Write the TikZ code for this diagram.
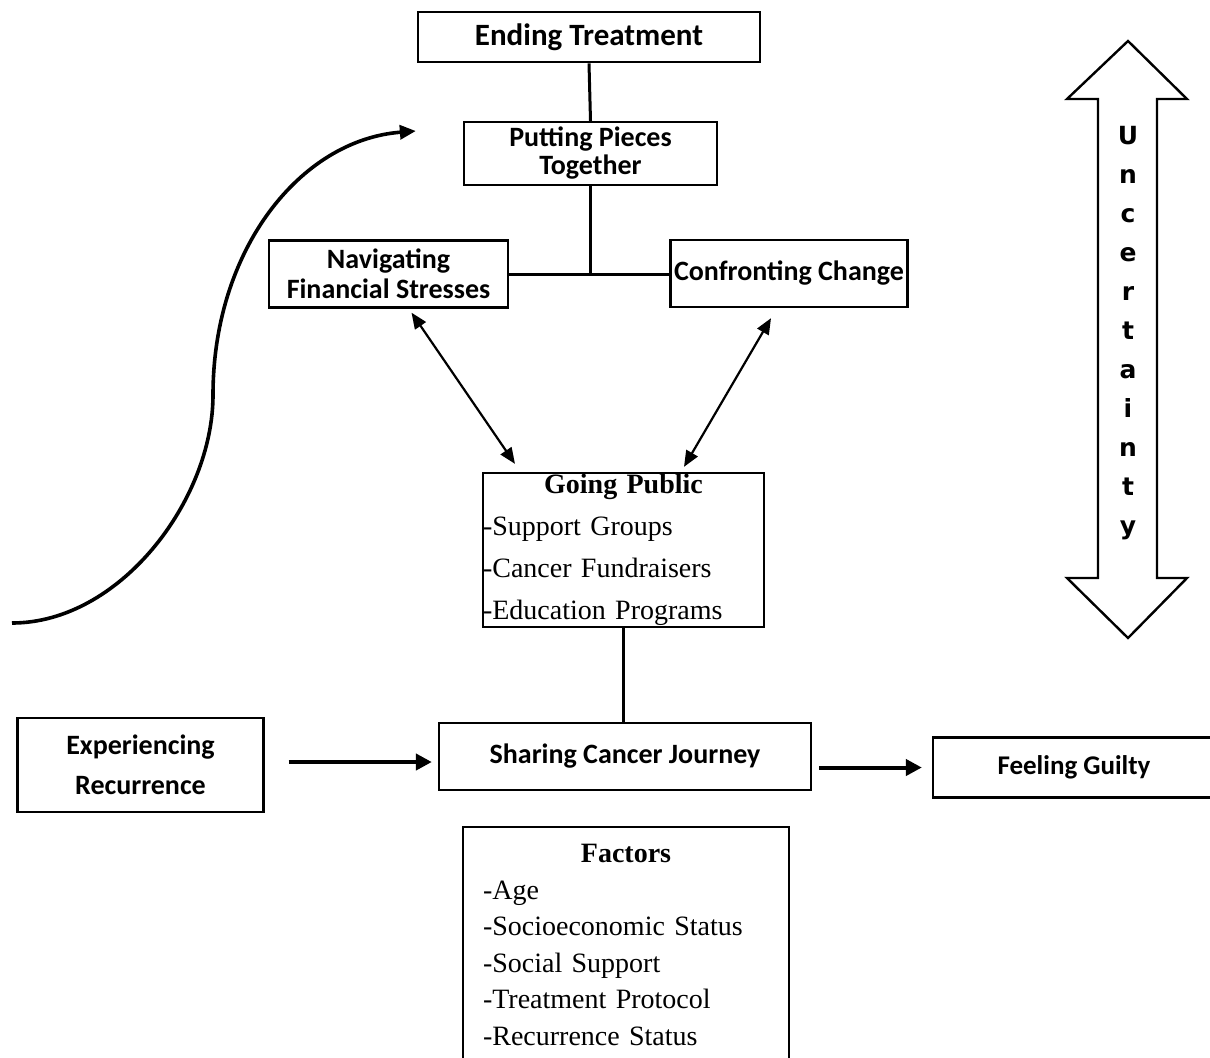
\documentclass[tikz,border=0pt]{standalone}
\usepackage{fontspec}
\setmainfont{Liberation Serif}
\newfontfamily\calibri{Carlito}
\newfontfamily\dejavu{DejaVu Sans}
\usetikzlibrary{
	positioning,
	arrows.meta
}

\begin{document}
\begin{tikzpicture}[x=0.5pt,y=-0.5pt,
		stagebox/.style={draw,line width=1.15pt,inner sep=0pt,align=center,
			font=\calibri\bfseries\fontsize{14}{15}\selectfont},
		listbox/.style={draw,line width=1.15pt,inner ysep=0pt,inner xsep=0pt,align=left,
			font=\fontsize{14}{21}\selectfont},
		link/.style={line width=1.5pt},
		twoway/.style={{Triangle[length=8pt,width=6.5pt]}-{Triangle[length=8pt,width=6.5pt]},line width=1.1pt},
		bigarrow/.style={-{Triangle[length=8pt,width=8pt]},line width=2pt}
	]
	\useasboundingbox (0,0) rectangle (1210,1057);
	\clip (0,0) rectangle (1210,1057);

	% stages
	\node[stagebox,line width=1.4pt,minimum width=171pt,minimum height=25pt,
		font=\calibri\bfseries\fontsize{15.5}{17}\selectfont]          (ending)  at (589,37)     {Ending Treatment};
	\node[stagebox,minimum width=126.5pt,minimum height=31.5pt,
		font=\calibri\bfseries\fontsize{14}{14}\selectfont]            (putting) at (590.5,153.5) {Putting Pieces\\Together};
	\node[stagebox,minimum width=119.5pt,minimum height=33.5pt]   (navig)   at (388.5,274)   {Navigating\\Financial Stresses};
	\node[stagebox,minimum width=118.5pt,minimum height=33.5pt]   (confr)   at (789,273.5)   {Confronting Change};
	\node[listbox,minimum width=140.5pt,minimum height=77pt,text width=140.5pt]
		(gopub) at (623.5,550)
		{{\centering\bfseries Going Public\par}-Support Groups\par -Cancer Fundraisers\par -Education Programs};
	\node[stagebox,minimum width=186pt,minimum height=33.5pt]     (sharing) at (625,756.5)   {Sharing Cancer Journey};
	\node[stagebox,minimum width=123pt,minimum height=47pt,
		font=\calibri\bfseries\fontsize{14}{20}\selectfont]            (exper)   at (140.5,765)   {Experiencing\\Recurrence};
	\node[stagebox,minimum width=141pt,minimum height=30pt,
		font=\calibri\bfseries\fontsize{13.5}{15}\selectfont]          (guilty)  at (1074,767.5)  {Feeling Guilty};
	\node[listbox,anchor=north,inner xsep=10pt,inner ysep=8.7pt,text width=143pt,
		font=\fontsize{14}{18.25}\selectfont]                          (factors) at (626,826)
		{{\centering\bfseries Factors\par}-Age\par -Socioeconomic Status\par -Social Support\par -Treatment Protocol\par -Recurrence Status};

	% uncertainty arrow
	\draw[line width=1.2pt,fill=white]
		(1128,41) -- (1187,99) -- (1157,99) -- (1157,578) -- (1187,578) -- (1128,638)
		-- (1067,578) -- (1098,578) -- (1098,99) -- (1067,99) -- cycle;
	\node[align=center,inner sep=0pt,font=\dejavu\bfseries\fontsize{12.5}{19.5}\selectfont]
		(uncert) at (1128,333) {U\\n\\c\\e\\r\\t\\a\\i\\n\\t\\y};

	% connectors
	\draw[link] (ending.south) -- (putting.north);
	\draw[link] (putting.south) -- (putting.south |- navig.east);
	\draw[link] (navig.east) -- (confr.west |- navig.east);
	\draw[twoway] ([xshift=11.5pt,yshift=-2pt]navig.south) -- ([xshift=-54.25pt,yshift=4pt]gopub.north);
	\draw[twoway] ([xshift=-9pt,yshift=-5pt]confr.south) -- ([xshift=30.25pt,yshift=2.5pt]gopub.north);
	\draw[line width=1.2pt] (gopub.south) -- (gopub.south |- sharing.north);
	\draw[bigarrow] ([xshift=12pt,yshift=1.5pt]exper.east) -- ([xshift=-3pt,yshift=-2.75pt]sharing.west);
	\draw[bigarrow] ([xshift=3.5pt,yshift=-5.5pt]sharing.east) -- ([xshift=-5pt]guilty.west);

	% recurrence curve
	\coordinate (curvestart) at (12,623);
	\draw[line width=1.8pt,-{Triangle[length=8pt,width=7pt]}]
		(curvestart) .. controls (120,623) and (213,500) .. (213,395)
		.. controls (213,250) and (300,140) .. ([xshift=-23.5pt,yshift=11.25pt]putting.west);
\end{tikzpicture}
\end{document}
